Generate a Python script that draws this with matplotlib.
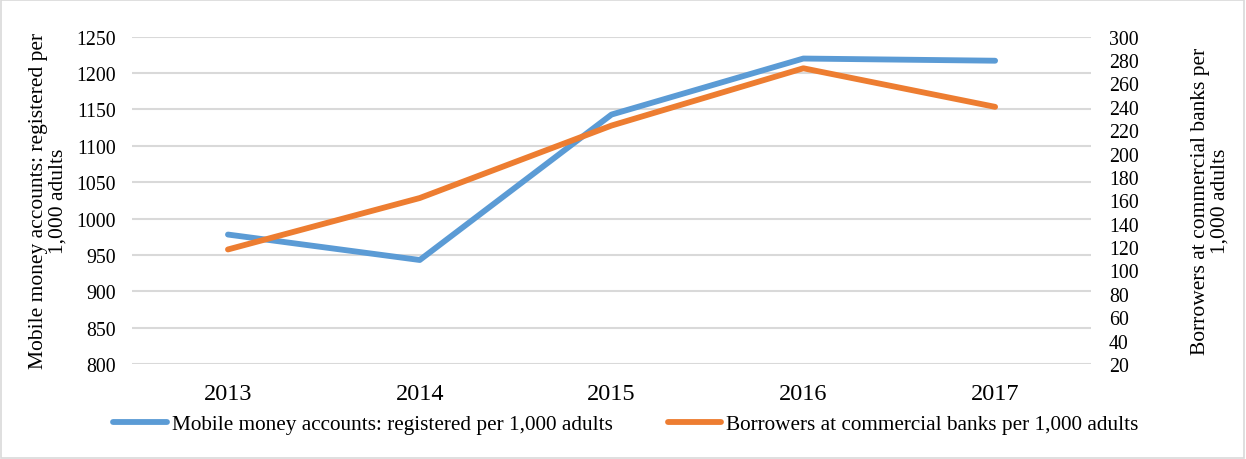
import matplotlib.pyplot as plt
from matplotlib.patches import Rectangle

# data
years = ['2013', '2014', '2015', '2016', '2017']
mobile_money = [978, 943, 1143, 1220, 1217]
borrowers = [118, 162, 224, 273, 240]
left_ticks = list(range(800, 1251, 50))
right_ticks = list(range(20, 301, 20))

plt.rcParams['font.family'] = ['Liberation Serif', 'DejaVu Serif']

fig = plt.figure(figsize=(12.46, 4.6), dpi=100)
fig.patches.append(Rectangle((0.001, 0.002), 0.997, 0.995, transform=fig.transFigure,
                             fill=False, edgecolor='#d9d9d9', linewidth=1.2))

ax = fig.add_axes([0.106, 0.2065, 0.7696, 0.7115])
ax2 = ax.twinx()

x = range(len(years))
l1, = ax.plot(x, mobile_money, color='#5b9bd5', linewidth=4.2, solid_capstyle='round',
              label='Mobile money accounts: registered per 1,000 adults', zorder=3)
l2, = ax2.plot(x, borrowers, color='#ed7d31', linewidth=4.2, solid_capstyle='round',
               label='Borrowers at commercial banks per 1,000 adults', zorder=3)

ax.set_xlim(-0.5, len(years) - 0.5)
ax.set_ylim(800, 1250)
ax2.set_ylim(20, 300)
ax.set_yticks(left_ticks)
ax2.set_yticks(right_ticks)
ax.set_xticks(list(x))
ax.set_xticklabels(years, fontsize=17.5)
ax.tick_params(axis='y', labelsize=14.3, length=0, pad=11.5)
ax2.tick_params(axis='y', labelsize=14.3, length=0, pad=13)
ax.tick_params(axis='x', length=0, pad=14)

ax.grid(axis='y', color='#d9d9d9', linewidth=1.5)
ax.set_axisbelow(True)
for a in (ax, ax2):
    for s in a.spines.values():
        s.set_visible(False)

ax.set_ylabel('Mobile money accounts: registered per\n1,000 adults', fontsize=15.5,
              linespacing=1.05)
ax.yaxis.set_label_coords(-0.067, 0.5)
ax2.set_ylabel('Borrowers at commercial banks per\n1,000 adults', fontsize=15.5,
               linespacing=1.05, rotation=90)
ax2.yaxis.set_label_coords(1.104, 0.5)

fig.legend(handles=[l1, l2], loc='center', bbox_to_anchor=(0.5025, 0.076), ncol=2,
           frameon=False, fontsize=15.3, handlelength=2.5, handletextpad=0.25,
           columnspacing=2.6)

fig.savefig('out.png', dpi=100)
